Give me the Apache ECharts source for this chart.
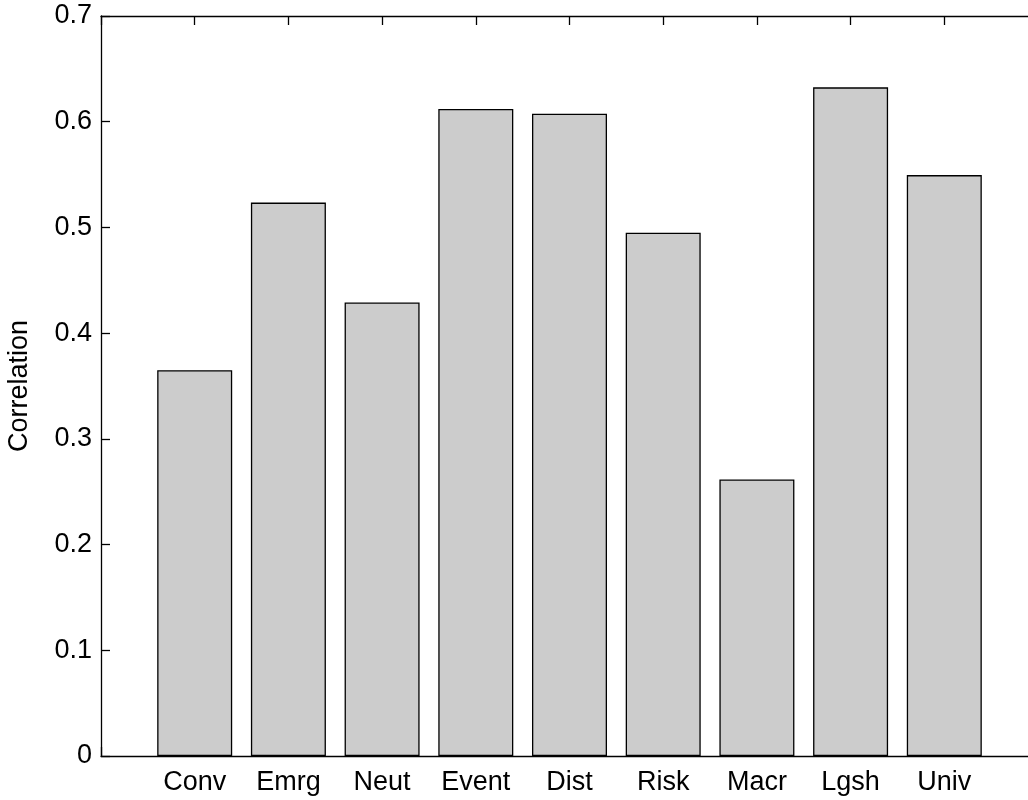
<!DOCTYPE html>
<html>
<head>
<meta charset="utf-8">
<script src="https://cdn.jsdelivr.net/npm/echarts@6/dist/echarts.min.js"></script>
<style>
html,body{margin:0;padding:0;background:#fff;}
#chart{width:1028px;height:800px;}
</style>
</head>
<body>
<div id="chart"></div>
<script>
var categories = ['Conv', 'Emrg', 'Neut', 'Event', 'Dist', 'Risk', 'Macr', 'Lgsh', 'Univ'];
var correlation = [0.365, 0.5235, 0.429, 0.612, 0.6075, 0.495, 0.2615, 0.6325, 0.5495];
var yTicks = [0, 0.1, 0.2, 0.3, 0.4, 0.5, 0.6, 0.7];

var FONT = '"Liberation Sans", Arial, Helvetica, sans-serif';
var chart = echarts.init(document.getElementById('chart'), null, {renderer: 'canvas'});

var barData = categories.map(function (c, i) { return [i + 1, correlation[i]]; });

var axisLine = {show: true, onZero: false, lineStyle: {color: '#000', width: 1.3}};

chart.setOption({
  animation: false,
  backgroundColor: '#fff',
  textStyle: {fontFamily: FONT},
  grid: {left: 101, top: 16, width: 937, height: 740, containLabel: false, outerBoundsMode: 'none'},
  xAxis: [{
    type: 'value', min: 0, max: categories.length + 1, interval: 1,
    position: 'bottom',
    axisLine: axisLine,
    axisTick: {show: true, inside: true, length: 9, lineStyle: {color: '#000', width: 1.3}},
    splitLine: {show: false},
    axisLabel: {
      color: '#000', fontSize: 27, fontFamily: FONT, margin: 13,
      formatter: function (v) { return (v >= 1 && v <= categories.length) ? categories[v - 1] : ''; }
    }
  }, {
    type: 'value', min: 0, max: categories.length + 1, interval: 1,
    position: 'top',
    axisLine: axisLine,
    axisTick: {show: true, inside: true, length: 9, lineStyle: {color: '#000', width: 1.3}},
    splitLine: {show: false},
    axisLabel: {show: false}
  }],
  yAxis: [{
    type: 'value', min: yTicks[0], max: yTicks[yTicks.length - 1], interval: 0.1,
    position: 'left',
    name: 'Correlation', nameLocation: 'middle', nameRotate: 90, nameGap: 68,
    nameTextStyle: {color: '#000', fontSize: 27, fontFamily: FONT},
    axisLine: axisLine,
    axisTick: {show: true, inside: true, length: 9, lineStyle: {color: '#000', width: 1.3}},
    splitLine: {show: false},
    axisLabel: {
      color: '#000', fontSize: 27, fontFamily: FONT, margin: 9,
      formatter: function (v) { return String(Math.round(v * 10) / 10); }
    }
  }, {
    type: 'value', min: yTicks[0], max: yTicks[yTicks.length - 1], interval: 0.1,
    position: 'right',
    axisLine: axisLine,
    axisTick: {show: true, inside: true, length: 9},
    splitLine: {show: false},
    axisLabel: {show: false}
  }],
  series: [{
    type: 'bar',
    xAxisIndex: 0, yAxisIndex: 0,
    data: barData,
    barWidth: 75,
    itemStyle: {color: '#cccccc', borderColor: '#000', borderWidth: 1.3}
  }]
});
</script>
</body>
</html>
